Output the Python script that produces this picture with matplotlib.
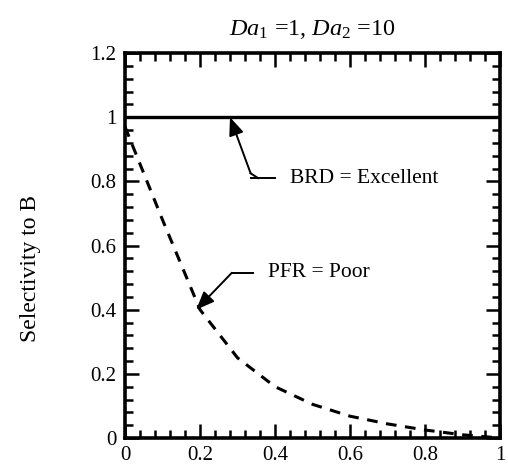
import matplotlib
matplotlib.use("Agg")
import matplotlib.pyplot as plt
from matplotlib.ticker import MultipleLocator, FixedLocator

plt.rcParams['font.family'] = ['Liberation Serif', 'DejaVu Serif']
plt.rcParams['mathtext.fontset'] = 'custom'
plt.rcParams['mathtext.rm'] = 'Liberation Serif'
plt.rcParams['mathtext.it'] = 'Liberation Serif:italic'

# data
brd_x = [0.0, 1.0]
brd_y = [1.0, 1.0]
pfr_x = [0.0, 0.1, 0.2, 0.3, 0.4, 0.5, 0.6, 0.7, 0.8, 0.9, 1.0]
pfr_y = [0.97, 0.68, 0.40, 0.25, 0.16, 0.105, 0.068, 0.044, 0.025, 0.01, 0.0]
x_ticks = [0, 0.2, 0.4, 0.6, 0.8, 1.0]
x_labels = ['0', '0.2', '0.4', '0.6', '0.8', '1']
y_ticks = [0, 0.2, 0.4, 0.6, 0.8, 1.0, 1.2]
y_labels = ['0', '0.2', '0.4', '0.6', '0.8', '1', '1.2']
title = r'$\mathit{Da}_{1}$ =1, $\mathit{Da}_{2}$ =10'
ylabel = 'Selectivity to B'
ann_brd = 'BRD = Excellent'
ann_pfr = 'PFR = Poor'

fig = plt.figure(figsize=(5.08, 4.74), dpi=100)
ax = fig.add_axes([125/508, 1 - 438/474, 375/508, 385/474])

ax.plot(brd_x, brd_y, color='black', lw=2.4, solid_capstyle='butt')
ax.plot(pfr_x, pfr_y, color='black', lw=2.2, dashes=(3.5, 2.8))

ax.set_xlim(0, 1)
ax.set_ylim(0, 1.2)
ax.xaxis.set_major_locator(FixedLocator(x_ticks))
ax.yaxis.set_major_locator(FixedLocator(y_ticks))
ax.set_xticklabels(x_labels)
ax.set_yticklabels(y_labels)
ax.xaxis.set_minor_locator(MultipleLocator(0.04))
ax.yaxis.set_minor_locator(MultipleLocator(0.04))
ax.tick_params(which='both', direction='in', top=True, right=True, labelsize=15, width=1.8)
ax.tick_params(which='major', length=10, pad=6)
ax.tick_params(which='minor', length=5.5)
for s in ax.spines.values():
    s.set_linewidth(2.6)

ax.set_title(title, fontsize=17.5, pad=13)
ax.set_ylabel(ylabel, fontsize=17)
ax.yaxis.set_label_coords(-0.225, 0.44)

# annotations
ap = dict(arrowstyle='-|>,head_length=1.1,head_width=0.45', color='black', lw=1.4,
          shrinkA=0, shrinkB=0)
ax.annotate('', xy=(0.28, 1.0), xytext=(0.335, 0.825), arrowprops=ap)
ax.plot([0.335, 0.355], [0.825, 0.81], color='black', lw=1.4)
ax.plot([0.335, 0.40], [0.81, 0.81], color='black', lw=1.4)
ax.text(0.44, 0.81, ann_brd, fontsize=15.5, va='center', ha='left')

ax.annotate('', xy=(0.19, 0.40), xytext=(0.285, 0.515), arrowprops=ap)
ax.plot([0.285, 0.34], [0.515, 0.515], color='black', lw=1.4)
ax.text(0.38, 0.515, ann_pfr, fontsize=15.5, va='center', ha='left')

fig.savefig('out.png', dpi=100)
